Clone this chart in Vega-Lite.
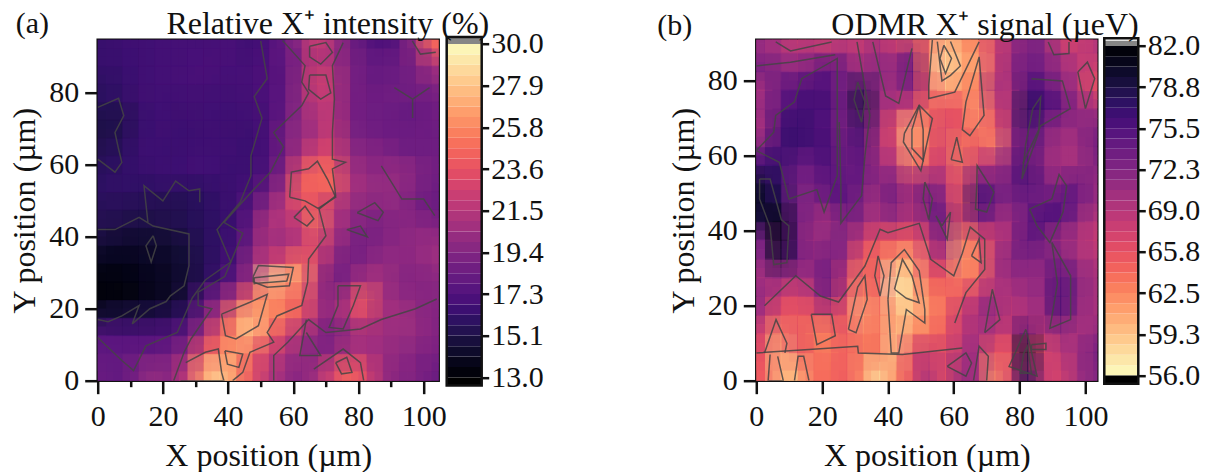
{"$schema":"https://vega.github.io/schema/vega-lite/v6.json","background":"white","padding":{"left":6.7,"top":7.7,"right":2,"bottom":2},"bounds":"flush","resolve":{"scale":{"color":"independent"}},"config":{"font":"Liberation Serif","view":{"stroke":"#111","strokeWidth":2.5},"axis":{"labelFont":"Liberation Serif","titleFont":"Liberation Serif","labelFontSize":30,"titleFontSize":32,"labelColor":"#111","titleColor":"#111","titleFontWeight":"normal","grid":false,"domain":false,"tickColor":"#111","tickWidth":2.5},"title":{"font":"Liberation Serif","fontSize":32,"fontWeight":"normal","color":"#111"}},
"datasets":{
"a":[
{"x":2.5,"y":92.5,"v":16.3},{"x":7.5,"y":92.5,"v":16.5},{"x":12.5,"y":92.5,"v":16.6},{"x":17.5,"y":92.5,"v":16.7},{"x":22.5,"y":92.5,"v":16.8},{"x":27.5,"y":92.5,"v":16.8},{"x":32.5,"y":92.5,"v":16.8},{"x":37.5,"y":92.5,"v":16.9},{"x":42.5,"y":92.5,"v":16.9},{"x":47.5,"y":92.5,"v":16.6},{"x":52.5,"y":92.5,"v":17},{"x":57.5,"y":92.5,"v":18.2},{"x":62.5,"y":92.5,"v":20},{"x":67.5,"y":92.5,"v":22.6},{"x":72.5,"y":92.5,"v":20.8},{"x":77.5,"y":92.5,"v":18.8},{"x":82.5,"y":92.5,"v":17.8},{"x":87.5,"y":92.5,"v":17},{"x":92.5,"y":92.5,"v":17.8},{"x":97.5,"y":92.5,"v":20},{"x":102.5,"y":92.5,"v":24.5},
{"x":2.5,"y":87.5,"v":16.3},{"x":7.5,"y":87.5,"v":16.4},{"x":12.5,"y":87.5,"v":16.6},{"x":17.5,"y":87.5,"v":16.7},{"x":22.5,"y":87.5,"v":16.8},{"x":27.5,"y":87.5,"v":16.8},{"x":32.5,"y":87.5,"v":17},{"x":37.5,"y":87.5,"v":16.9},{"x":42.5,"y":87.5,"v":16.9},{"x":47.5,"y":87.5,"v":16.8},{"x":52.5,"y":87.5,"v":17.2},{"x":57.5,"y":87.5,"v":18},{"x":62.5,"y":87.5,"v":19.4},{"x":67.5,"y":87.5,"v":22.2},{"x":72.5,"y":87.5,"v":20.6},{"x":77.5,"y":87.5,"v":19.2},{"x":82.5,"y":87.5,"v":18.4},{"x":87.5,"y":87.5,"v":18.2},{"x":92.5,"y":87.5,"v":18.4},{"x":97.5,"y":87.5,"v":19},{"x":102.5,"y":87.5,"v":21},
{"x":2.5,"y":82.5,"v":15.9},{"x":7.5,"y":82.5,"v":16.2},{"x":12.5,"y":82.5,"v":16.6},{"x":17.5,"y":82.5,"v":16.7},{"x":22.5,"y":82.5,"v":16.8},{"x":27.5,"y":82.5,"v":16.9},{"x":32.5,"y":82.5,"v":16.9},{"x":37.5,"y":82.5,"v":16.8},{"x":42.5,"y":82.5,"v":16.8},{"x":47.5,"y":82.5,"v":16.9},{"x":52.5,"y":82.5,"v":17.2},{"x":57.5,"y":82.5,"v":17.8},{"x":62.5,"y":82.5,"v":20.2},{"x":67.5,"y":82.5,"v":23},{"x":72.5,"y":82.5,"v":21.8},{"x":77.5,"y":82.5,"v":19.2},{"x":82.5,"y":82.5,"v":18.3},{"x":87.5,"y":82.5,"v":18.2},{"x":92.5,"y":82.5,"v":18.4},{"x":97.5,"y":82.5,"v":18.8},{"x":102.5,"y":82.5,"v":19.6},
{"x":2.5,"y":77.5,"v":15.8},{"x":7.5,"y":77.5,"v":16.1},{"x":12.5,"y":77.5,"v":16.5},{"x":17.5,"y":77.5,"v":16.7},{"x":22.5,"y":77.5,"v":16.6},{"x":27.5,"y":77.5,"v":16.7},{"x":32.5,"y":77.5,"v":16.7},{"x":37.5,"y":77.5,"v":16.7},{"x":42.5,"y":77.5,"v":16.7},{"x":47.5,"y":77.5,"v":16.8},{"x":52.5,"y":77.5,"v":17.1},{"x":57.5,"y":77.5,"v":18},{"x":62.5,"y":77.5,"v":20},{"x":67.5,"y":77.5,"v":22.2},{"x":72.5,"y":77.5,"v":21.6},{"x":77.5,"y":77.5,"v":19},{"x":82.5,"y":77.5,"v":18.6},{"x":87.5,"y":77.5,"v":18.6},{"x":92.5,"y":77.5,"v":18.8},{"x":97.5,"y":77.5,"v":18.4},{"x":102.5,"y":77.5,"v":18.6},
{"x":2.5,"y":72.5,"v":15.2},{"x":7.5,"y":72.5,"v":15.3},{"x":12.5,"y":72.5,"v":16.2},{"x":17.5,"y":72.5,"v":16.6},{"x":22.5,"y":72.5,"v":16.6},{"x":27.5,"y":72.5,"v":16.5},{"x":32.5,"y":72.5,"v":16.7},{"x":37.5,"y":72.5,"v":16.6},{"x":42.5,"y":72.5,"v":16.6},{"x":47.5,"y":72.5,"v":16.7},{"x":52.5,"y":72.5,"v":16.9},{"x":57.5,"y":72.5,"v":18.2},{"x":62.5,"y":72.5,"v":20.2},{"x":67.5,"y":72.5,"v":21.2},{"x":72.5,"y":72.5,"v":22},{"x":77.5,"y":72.5,"v":19},{"x":82.5,"y":72.5,"v":18.4},{"x":87.5,"y":72.5,"v":18.4},{"x":92.5,"y":72.5,"v":18.2},{"x":97.5,"y":72.5,"v":18},{"x":102.5,"y":72.5,"v":18.6},
{"x":2.5,"y":67.5,"v":15.3},{"x":7.5,"y":67.5,"v":15.5},{"x":12.5,"y":67.5,"v":16.3},{"x":17.5,"y":67.5,"v":16.6},{"x":22.5,"y":67.5,"v":16.5},{"x":27.5,"y":67.5,"v":16.4},{"x":32.5,"y":67.5,"v":16.5},{"x":37.5,"y":67.5,"v":16.6},{"x":42.5,"y":67.5,"v":16.5},{"x":47.5,"y":67.5,"v":16.4},{"x":52.5,"y":67.5,"v":17},{"x":57.5,"y":67.5,"v":19},{"x":62.5,"y":67.5,"v":20.2},{"x":67.5,"y":67.5,"v":21},{"x":72.5,"y":67.5,"v":22.4},{"x":77.5,"y":67.5,"v":19.2},{"x":82.5,"y":67.5,"v":18.8},{"x":87.5,"y":67.5,"v":18.6},{"x":92.5,"y":67.5,"v":18.4},{"x":97.5,"y":67.5,"v":18.6},{"x":102.5,"y":67.5,"v":18.4},
{"x":2.5,"y":62.5,"v":15.6},{"x":7.5,"y":62.5,"v":15.8},{"x":12.5,"y":62.5,"v":16.4},{"x":17.5,"y":62.5,"v":16.5},{"x":22.5,"y":62.5,"v":16.4},{"x":27.5,"y":62.5,"v":16.5},{"x":32.5,"y":62.5,"v":16.7},{"x":37.5,"y":62.5,"v":16.6},{"x":42.5,"y":62.5,"v":16.6},{"x":47.5,"y":62.5,"v":16.4},{"x":52.5,"y":62.5,"v":17},{"x":57.5,"y":62.5,"v":18.6},{"x":62.5,"y":62.5,"v":21},{"x":67.5,"y":62.5,"v":22.8},{"x":72.5,"y":62.5,"v":23},{"x":77.5,"y":62.5,"v":20.2},{"x":82.5,"y":62.5,"v":19.4},{"x":87.5,"y":62.5,"v":19.4},{"x":92.5,"y":62.5,"v":18.8},{"x":97.5,"y":62.5,"v":18.4},{"x":102.5,"y":62.5,"v":18.6},
{"x":2.5,"y":57.5,"v":15.8},{"x":7.5,"y":57.5,"v":16.1},{"x":12.5,"y":57.5,"v":16.3},{"x":17.5,"y":57.5,"v":16.4},{"x":22.5,"y":57.5,"v":16.5},{"x":27.5,"y":57.5,"v":16.6},{"x":32.5,"y":57.5,"v":16.8},{"x":37.5,"y":57.5,"v":16.6},{"x":42.5,"y":57.5,"v":16.4},{"x":47.5,"y":57.5,"v":16.5},{"x":52.5,"y":57.5,"v":17.4},{"x":57.5,"y":57.5,"v":19.6},{"x":62.5,"y":57.5,"v":23.4},{"x":67.5,"y":57.5,"v":25},{"x":72.5,"y":57.5,"v":24.4},{"x":77.5,"y":57.5,"v":20.8},{"x":82.5,"y":57.5,"v":20},{"x":87.5,"y":57.5,"v":19.8},{"x":92.5,"y":57.5,"v":20.4},{"x":97.5,"y":57.5,"v":19.8},{"x":102.5,"y":57.5,"v":18.8},
{"x":2.5,"y":52.5,"v":16},{"x":7.5,"y":52.5,"v":16.2},{"x":12.5,"y":52.5,"v":16},{"x":17.5,"y":52.5,"v":15.9},{"x":22.5,"y":52.5,"v":16.1},{"x":27.5,"y":52.5,"v":16},{"x":32.5,"y":52.5,"v":16},{"x":37.5,"y":52.5,"v":16.3},{"x":42.5,"y":52.5,"v":16.5},{"x":47.5,"y":52.5,"v":16.8},{"x":52.5,"y":52.5,"v":18.4},{"x":57.5,"y":52.5,"v":20.4},{"x":62.5,"y":52.5,"v":24.6},{"x":67.5,"y":52.5,"v":24.2},{"x":72.5,"y":52.5,"v":24.6},{"x":77.5,"y":52.5,"v":21.2},{"x":82.5,"y":52.5,"v":20.4},{"x":87.5,"y":52.5,"v":20.2},{"x":92.5,"y":52.5,"v":20},{"x":97.5,"y":52.5,"v":19.2},{"x":102.5,"y":52.5,"v":18.4},
{"x":2.5,"y":47.5,"v":15.6},{"x":7.5,"y":47.5,"v":15.6},{"x":12.5,"y":47.5,"v":15.5},{"x":17.5,"y":47.5,"v":15.4},{"x":22.5,"y":47.5,"v":15.3},{"x":27.5,"y":47.5,"v":15.5},{"x":32.5,"y":47.5,"v":15.8},{"x":37.5,"y":47.5,"v":16.2},{"x":42.5,"y":47.5,"v":16.6},{"x":47.5,"y":47.5,"v":17.6},{"x":52.5,"y":47.5,"v":20},{"x":57.5,"y":47.5,"v":21.6},{"x":62.5,"y":47.5,"v":23.4},{"x":67.5,"y":47.5,"v":23.8},{"x":72.5,"y":47.5,"v":21.4},{"x":77.5,"y":47.5,"v":20.2},{"x":82.5,"y":47.5,"v":19.6},{"x":87.5,"y":47.5,"v":19.8},{"x":92.5,"y":47.5,"v":20},{"x":97.5,"y":47.5,"v":19},{"x":102.5,"y":47.5,"v":18.4},
{"x":2.5,"y":42.5,"v":15.4},{"x":7.5,"y":42.5,"v":15.3},{"x":12.5,"y":42.5,"v":15.1},{"x":17.5,"y":42.5,"v":15.2},{"x":22.5,"y":42.5,"v":15.4},{"x":27.5,"y":42.5,"v":15.5},{"x":32.5,"y":42.5,"v":15.8},{"x":37.5,"y":42.5,"v":16.1},{"x":42.5,"y":42.5,"v":16.6},{"x":47.5,"y":42.5,"v":18.2},{"x":52.5,"y":42.5,"v":21.6},{"x":57.5,"y":42.5,"v":21},{"x":62.5,"y":42.5,"v":22},{"x":67.5,"y":42.5,"v":25.4},{"x":72.5,"y":42.5,"v":21.6},{"x":77.5,"y":42.5,"v":20},{"x":82.5,"y":42.5,"v":19.2},{"x":87.5,"y":42.5,"v":19},{"x":92.5,"y":42.5,"v":19.6},{"x":97.5,"y":42.5,"v":19.8},{"x":102.5,"y":42.5,"v":19.4},
{"x":2.5,"y":37.5,"v":14.6},{"x":7.5,"y":37.5,"v":14.4},{"x":12.5,"y":37.5,"v":14.3},{"x":17.5,"y":37.5,"v":14.5},{"x":22.5,"y":37.5,"v":14.5},{"x":27.5,"y":37.5,"v":15},{"x":32.5,"y":37.5,"v":15.7},{"x":37.5,"y":37.5,"v":16.2},{"x":42.5,"y":37.5,"v":16.8},{"x":47.5,"y":37.5,"v":18.8},{"x":52.5,"y":37.5,"v":21.2},{"x":57.5,"y":37.5,"v":20.2},{"x":62.5,"y":37.5,"v":22},{"x":67.5,"y":37.5,"v":23},{"x":72.5,"y":37.5,"v":20.6},{"x":77.5,"y":37.5,"v":19.2},{"x":82.5,"y":37.5,"v":18.6},{"x":87.5,"y":37.5,"v":19.6},{"x":92.5,"y":37.5,"v":19.8},{"x":97.5,"y":37.5,"v":20},{"x":102.5,"y":37.5,"v":20.4},
{"x":2.5,"y":32.5,"v":13.9},{"x":7.5,"y":32.5,"v":13.9},{"x":12.5,"y":32.5,"v":14},{"x":17.5,"y":32.5,"v":14.3},{"x":22.5,"y":32.5,"v":14.3},{"x":27.5,"y":32.5,"v":14.8},{"x":32.5,"y":32.5,"v":15.6},{"x":37.5,"y":32.5,"v":16.2},{"x":42.5,"y":32.5,"v":17},{"x":47.5,"y":32.5,"v":20.2},{"x":52.5,"y":32.5,"v":22},{"x":57.5,"y":32.5,"v":23},{"x":62.5,"y":32.5,"v":25},{"x":67.5,"y":32.5,"v":22.8},{"x":72.5,"y":32.5,"v":19.8},{"x":77.5,"y":32.5,"v":18.8},{"x":82.5,"y":32.5,"v":19.4},{"x":87.5,"y":32.5,"v":20},{"x":92.5,"y":32.5,"v":20},{"x":97.5,"y":32.5,"v":19.8},{"x":102.5,"y":32.5,"v":20.4},
{"x":2.5,"y":27.5,"v":13.3},{"x":7.5,"y":27.5,"v":13.4},{"x":12.5,"y":27.5,"v":13.6},{"x":17.5,"y":27.5,"v":14},{"x":22.5,"y":27.5,"v":14.2},{"x":27.5,"y":27.5,"v":14.7},{"x":32.5,"y":27.5,"v":15.6},{"x":37.5,"y":27.5,"v":16.6},{"x":42.5,"y":27.5,"v":18},{"x":47.5,"y":27.5,"v":20.6},{"x":52.5,"y":27.5,"v":28.6},{"x":57.5,"y":27.5,"v":28},{"x":62.5,"y":27.5,"v":26.4},{"x":67.5,"y":27.5,"v":22},{"x":72.5,"y":27.5,"v":18},{"x":77.5,"y":27.5,"v":19.8},{"x":82.5,"y":27.5,"v":20.8},{"x":87.5,"y":27.5,"v":20.8},{"x":92.5,"y":27.5,"v":19.6},{"x":97.5,"y":27.5,"v":19.4},{"x":102.5,"y":27.5,"v":19.6},
{"x":2.5,"y":22.5,"v":13.3},{"x":7.5,"y":22.5,"v":13.3},{"x":12.5,"y":22.5,"v":13.7},{"x":17.5,"y":22.5,"v":14},{"x":22.5,"y":22.5,"v":14.2},{"x":27.5,"y":22.5,"v":15.1},{"x":32.5,"y":22.5,"v":17.4},{"x":37.5,"y":22.5,"v":19.2},{"x":42.5,"y":22.5,"v":21.2},{"x":47.5,"y":22.5,"v":24.6},{"x":52.5,"y":22.5,"v":26},{"x":57.5,"y":22.5,"v":24.6},{"x":62.5,"y":22.5,"v":24.2},{"x":67.5,"y":22.5,"v":21.4},{"x":72.5,"y":22.5,"v":19.2},{"x":77.5,"y":22.5,"v":21.8},{"x":82.5,"y":22.5,"v":24.6},{"x":87.5,"y":22.5,"v":20.8},{"x":92.5,"y":22.5,"v":20},{"x":97.5,"y":22.5,"v":19.8},{"x":102.5,"y":22.5,"v":19.6},
{"x":2.5,"y":17.5,"v":15},{"x":7.5,"y":17.5,"v":15},{"x":12.5,"y":17.5,"v":15.2},{"x":17.5,"y":17.5,"v":15.2},{"x":22.5,"y":17.5,"v":15.6},{"x":27.5,"y":17.5,"v":16.2},{"x":32.5,"y":17.5,"v":18.8},{"x":37.5,"y":17.5,"v":21.4},{"x":42.5,"y":17.5,"v":25.4},{"x":47.5,"y":17.5,"v":27.8},{"x":52.5,"y":17.5,"v":26},{"x":57.5,"y":17.5,"v":25.6},{"x":62.5,"y":17.5,"v":24},{"x":67.5,"y":17.5,"v":21.4},{"x":72.5,"y":17.5,"v":19.4},{"x":77.5,"y":17.5,"v":22},{"x":82.5,"y":17.5,"v":23.4},{"x":87.5,"y":17.5,"v":20.6},{"x":92.5,"y":17.5,"v":21},{"x":97.5,"y":17.5,"v":20.2},{"x":102.5,"y":17.5,"v":19.4},
{"x":2.5,"y":12.5,"v":17.4},{"x":7.5,"y":12.5,"v":17},{"x":12.5,"y":12.5,"v":17},{"x":17.5,"y":12.5,"v":17.2},{"x":22.5,"y":12.5,"v":17.2},{"x":27.5,"y":12.5,"v":18},{"x":32.5,"y":12.5,"v":20.4},{"x":37.5,"y":12.5,"v":24},{"x":42.5,"y":12.5,"v":26},{"x":47.5,"y":12.5,"v":28.2},{"x":52.5,"y":12.5,"v":25},{"x":57.5,"y":12.5,"v":23},{"x":62.5,"y":12.5,"v":21},{"x":67.5,"y":12.5,"v":19.8},{"x":72.5,"y":12.5,"v":18.6},{"x":77.5,"y":12.5,"v":20.2},{"x":82.5,"y":12.5,"v":20.6},{"x":87.5,"y":12.5,"v":20.6},{"x":92.5,"y":12.5,"v":20.2},{"x":97.5,"y":12.5,"v":20.4},{"x":102.5,"y":12.5,"v":19.4},
{"x":2.5,"y":7.5,"v":18},{"x":7.5,"y":7.5,"v":18},{"x":12.5,"y":7.5,"v":18.2},{"x":17.5,"y":7.5,"v":18},{"x":22.5,"y":7.5,"v":18.4},{"x":27.5,"y":7.5,"v":19.8},{"x":32.5,"y":7.5,"v":23.6},{"x":37.5,"y":7.5,"v":25},{"x":42.5,"y":7.5,"v":26.8},{"x":47.5,"y":7.5,"v":24.4},{"x":52.5,"y":7.5,"v":22.8},{"x":57.5,"y":7.5,"v":21.4},{"x":62.5,"y":7.5,"v":20.2},{"x":67.5,"y":7.5,"v":19.2},{"x":72.5,"y":7.5,"v":19.8},{"x":77.5,"y":7.5,"v":21.2},{"x":82.5,"y":7.5,"v":21},{"x":87.5,"y":7.5,"v":20.4},{"x":92.5,"y":7.5,"v":20},{"x":97.5,"y":7.5,"v":19.6},{"x":102.5,"y":7.5,"v":19},
{"x":2.5,"y":2.5,"v":18.2},{"x":7.5,"y":2.5,"v":18},{"x":12.5,"y":2.5,"v":19},{"x":17.5,"y":2.5,"v":20.2},{"x":22.5,"y":2.5,"v":19.4},{"x":27.5,"y":2.5,"v":22},{"x":32.5,"y":2.5,"v":26.4},{"x":37.5,"y":2.5,"v":28.4},{"x":42.5,"y":2.5,"v":26},{"x":47.5,"y":2.5,"v":23.8},{"x":52.5,"y":2.5,"v":21.6},{"x":57.5,"y":2.5,"v":20.4},{"x":62.5,"y":2.5,"v":19.4},{"x":67.5,"y":2.5,"v":20.8},{"x":72.5,"y":2.5,"v":22.8},{"x":77.5,"y":2.5,"v":24.6},{"x":82.5,"y":2.5,"v":23},{"x":87.5,"y":2.5,"v":20.6},{"x":92.5,"y":2.5,"v":19.4},{"x":97.5,"y":2.5,"v":19.4},{"x":102.5,"y":2.5,"v":18.4}
],
"b":[
{"x":2.5,"y":92.5,"v":71},{"x":7.5,"y":92.5,"v":69},{"x":12.5,"y":92.5,"v":67},{"x":17.5,"y":92.5,"v":68},{"x":22.5,"y":92.5,"v":66},{"x":27.5,"y":92.5,"v":69},{"x":32.5,"y":92.5,"v":67},{"x":37.5,"y":92.5,"v":70},{"x":42.5,"y":92.5,"v":66},{"x":47.5,"y":92.5,"v":64},{"x":52.5,"y":92.5,"v":65},{"x":57.5,"y":92.5,"v":60},{"x":62.5,"y":92.5,"v":63},{"x":67.5,"y":92.5,"v":63},{"x":72.5,"y":92.5,"v":67},{"x":77.5,"y":92.5,"v":70},{"x":82.5,"y":92.5,"v":73},{"x":87.5,"y":92.5,"v":72},{"x":92.5,"y":92.5,"v":67},{"x":97.5,"y":92.5,"v":66},{"x":102.5,"y":92.5,"v":69},
{"x":2.5,"y":87.5,"v":71},{"x":7.5,"y":87.5,"v":70},{"x":12.5,"y":87.5,"v":69},{"x":17.5,"y":87.5,"v":70},{"x":22.5,"y":87.5,"v":69},{"x":27.5,"y":87.5,"v":70},{"x":32.5,"y":87.5,"v":68},{"x":37.5,"y":87.5,"v":71},{"x":42.5,"y":87.5,"v":68},{"x":47.5,"y":87.5,"v":72},{"x":52.5,"y":87.5,"v":64},{"x":57.5,"y":87.5,"v":58},{"x":62.5,"y":87.5,"v":61},{"x":67.5,"y":87.5,"v":62},{"x":72.5,"y":87.5,"v":67},{"x":77.5,"y":87.5,"v":70},{"x":82.5,"y":87.5,"v":73},{"x":87.5,"y":87.5,"v":72},{"x":92.5,"y":87.5,"v":69},{"x":97.5,"y":87.5,"v":68},{"x":102.5,"y":87.5,"v":69},
{"x":2.5,"y":82.5,"v":73},{"x":7.5,"y":82.5,"v":72},{"x":12.5,"y":82.5,"v":71},{"x":17.5,"y":82.5,"v":73},{"x":22.5,"y":82.5,"v":75},{"x":27.5,"y":82.5,"v":73},{"x":32.5,"y":82.5,"v":70},{"x":37.5,"y":82.5,"v":72},{"x":42.5,"y":82.5,"v":71},{"x":47.5,"y":82.5,"v":75},{"x":52.5,"y":82.5,"v":64},{"x":57.5,"y":82.5,"v":57},{"x":62.5,"y":82.5,"v":61},{"x":67.5,"y":82.5,"v":61},{"x":72.5,"y":82.5,"v":67},{"x":77.5,"y":82.5,"v":71},{"x":82.5,"y":82.5,"v":74},{"x":87.5,"y":82.5,"v":73},{"x":92.5,"y":82.5,"v":71},{"x":97.5,"y":82.5,"v":69},{"x":102.5,"y":82.5,"v":67},
{"x":2.5,"y":77.5,"v":70},{"x":7.5,"y":77.5,"v":74},{"x":12.5,"y":77.5,"v":75},{"x":17.5,"y":77.5,"v":76},{"x":22.5,"y":77.5,"v":75},{"x":27.5,"y":77.5,"v":72},{"x":32.5,"y":77.5,"v":78},{"x":37.5,"y":77.5,"v":71},{"x":42.5,"y":77.5,"v":70},{"x":47.5,"y":77.5,"v":73},{"x":52.5,"y":77.5,"v":66},{"x":57.5,"y":77.5,"v":60},{"x":62.5,"y":77.5,"v":62},{"x":67.5,"y":77.5,"v":63},{"x":72.5,"y":77.5,"v":70},{"x":77.5,"y":77.5,"v":69},{"x":82.5,"y":77.5,"v":76},{"x":87.5,"y":77.5,"v":75},{"x":92.5,"y":77.5,"v":72},{"x":97.5,"y":77.5,"v":70},{"x":102.5,"y":77.5,"v":66},
{"x":2.5,"y":72.5,"v":71},{"x":7.5,"y":72.5,"v":74},{"x":12.5,"y":72.5,"v":76},{"x":17.5,"y":72.5,"v":76},{"x":22.5,"y":72.5,"v":76},{"x":27.5,"y":72.5,"v":73},{"x":32.5,"y":72.5,"v":79},{"x":37.5,"y":72.5,"v":71},{"x":42.5,"y":72.5,"v":69},{"x":47.5,"y":72.5,"v":68},{"x":52.5,"y":72.5,"v":64},{"x":57.5,"y":72.5,"v":66},{"x":62.5,"y":72.5,"v":65},{"x":67.5,"y":72.5,"v":61},{"x":72.5,"y":72.5,"v":67},{"x":77.5,"y":72.5,"v":70},{"x":82.5,"y":72.5,"v":78},{"x":87.5,"y":72.5,"v":76},{"x":92.5,"y":72.5,"v":75},{"x":97.5,"y":72.5,"v":71},{"x":102.5,"y":72.5,"v":70},
{"x":2.5,"y":67.5,"v":70},{"x":7.5,"y":67.5,"v":76},{"x":12.5,"y":67.5,"v":77},{"x":17.5,"y":67.5,"v":76},{"x":22.5,"y":67.5,"v":75},{"x":27.5,"y":67.5,"v":72},{"x":32.5,"y":67.5,"v":77},{"x":37.5,"y":67.5,"v":70},{"x":42.5,"y":67.5,"v":66},{"x":47.5,"y":67.5,"v":60},{"x":52.5,"y":67.5,"v":64},{"x":57.5,"y":67.5,"v":67},{"x":62.5,"y":67.5,"v":65},{"x":67.5,"y":67.5,"v":62},{"x":72.5,"y":67.5,"v":65},{"x":77.5,"y":67.5,"v":70},{"x":82.5,"y":67.5,"v":77},{"x":87.5,"y":67.5,"v":73},{"x":92.5,"y":67.5,"v":71},{"x":97.5,"y":67.5,"v":71},{"x":102.5,"y":67.5,"v":72},
{"x":2.5,"y":62.5,"v":72},{"x":7.5,"y":62.5,"v":76},{"x":12.5,"y":62.5,"v":77},{"x":17.5,"y":62.5,"v":76},{"x":22.5,"y":62.5,"v":76},{"x":27.5,"y":62.5,"v":73},{"x":32.5,"y":62.5,"v":76},{"x":37.5,"y":62.5,"v":69},{"x":42.5,"y":62.5,"v":67},{"x":47.5,"y":62.5,"v":60},{"x":52.5,"y":62.5,"v":64},{"x":57.5,"y":62.5,"v":67},{"x":62.5,"y":62.5,"v":63},{"x":67.5,"y":62.5,"v":66},{"x":72.5,"y":62.5,"v":62},{"x":77.5,"y":62.5,"v":70},{"x":82.5,"y":62.5,"v":75},{"x":87.5,"y":62.5,"v":72},{"x":92.5,"y":62.5,"v":70},{"x":97.5,"y":62.5,"v":70},{"x":102.5,"y":62.5,"v":73},
{"x":2.5,"y":57.5,"v":76},{"x":7.5,"y":57.5,"v":77},{"x":12.5,"y":57.5,"v":74},{"x":17.5,"y":57.5,"v":74},{"x":22.5,"y":57.5,"v":76},{"x":27.5,"y":57.5,"v":73},{"x":32.5,"y":57.5,"v":75},{"x":37.5,"y":57.5,"v":70},{"x":42.5,"y":57.5,"v":69},{"x":47.5,"y":57.5,"v":62},{"x":52.5,"y":57.5,"v":66},{"x":57.5,"y":57.5,"v":68},{"x":62.5,"y":57.5,"v":63},{"x":67.5,"y":57.5,"v":68},{"x":72.5,"y":57.5,"v":69},{"x":77.5,"y":57.5,"v":72},{"x":82.5,"y":57.5,"v":76},{"x":87.5,"y":57.5,"v":71},{"x":92.5,"y":57.5,"v":70},{"x":97.5,"y":57.5,"v":70},{"x":102.5,"y":57.5,"v":72},
{"x":2.5,"y":52.5,"v":79},{"x":7.5,"y":52.5,"v":77},{"x":12.5,"y":52.5,"v":73},{"x":17.5,"y":52.5,"v":73},{"x":22.5,"y":52.5,"v":75},{"x":27.5,"y":52.5,"v":74},{"x":32.5,"y":52.5,"v":74},{"x":37.5,"y":52.5,"v":71},{"x":42.5,"y":52.5,"v":73},{"x":47.5,"y":52.5,"v":68},{"x":52.5,"y":52.5,"v":72},{"x":57.5,"y":52.5,"v":69},{"x":62.5,"y":52.5,"v":65},{"x":67.5,"y":52.5,"v":74},{"x":72.5,"y":52.5,"v":72},{"x":77.5,"y":52.5,"v":73},{"x":82.5,"y":52.5,"v":76},{"x":87.5,"y":52.5,"v":73},{"x":92.5,"y":52.5,"v":71},{"x":97.5,"y":52.5,"v":74},{"x":102.5,"y":52.5,"v":71},
{"x":2.5,"y":47.5,"v":80},{"x":7.5,"y":47.5,"v":78},{"x":12.5,"y":47.5,"v":73},{"x":17.5,"y":47.5,"v":72},{"x":22.5,"y":47.5,"v":74},{"x":27.5,"y":47.5,"v":75},{"x":32.5,"y":47.5,"v":72},{"x":37.5,"y":47.5,"v":70},{"x":42.5,"y":47.5,"v":74},{"x":47.5,"y":47.5,"v":69},{"x":52.5,"y":47.5,"v":75},{"x":57.5,"y":47.5,"v":71},{"x":62.5,"y":47.5,"v":65},{"x":67.5,"y":47.5,"v":77},{"x":72.5,"y":47.5,"v":74},{"x":77.5,"y":47.5,"v":72},{"x":82.5,"y":47.5,"v":74},{"x":87.5,"y":47.5,"v":73},{"x":92.5,"y":47.5,"v":75},{"x":97.5,"y":47.5,"v":74},{"x":102.5,"y":47.5,"v":71},
{"x":2.5,"y":42.5,"v":79},{"x":7.5,"y":42.5,"v":81},{"x":12.5,"y":42.5,"v":74},{"x":17.5,"y":42.5,"v":71},{"x":22.5,"y":42.5,"v":70},{"x":27.5,"y":42.5,"v":73},{"x":32.5,"y":42.5,"v":72},{"x":37.5,"y":42.5,"v":69},{"x":42.5,"y":42.5,"v":72},{"x":47.5,"y":42.5,"v":68},{"x":52.5,"y":42.5,"v":72},{"x":57.5,"y":42.5,"v":74},{"x":62.5,"y":42.5,"v":66},{"x":67.5,"y":42.5,"v":74},{"x":72.5,"y":42.5,"v":71},{"x":77.5,"y":42.5,"v":70},{"x":82.5,"y":42.5,"v":74},{"x":87.5,"y":42.5,"v":76},{"x":92.5,"y":42.5,"v":75},{"x":97.5,"y":42.5,"v":72},{"x":102.5,"y":42.5,"v":69},
{"x":2.5,"y":37.5,"v":73},{"x":7.5,"y":37.5,"v":81},{"x":12.5,"y":37.5,"v":74},{"x":17.5,"y":37.5,"v":70},{"x":22.5,"y":37.5,"v":72},{"x":27.5,"y":37.5,"v":72},{"x":32.5,"y":37.5,"v":68},{"x":37.5,"y":37.5,"v":66},{"x":42.5,"y":37.5,"v":66},{"x":47.5,"y":37.5,"v":65},{"x":52.5,"y":37.5,"v":68},{"x":57.5,"y":37.5,"v":73},{"x":62.5,"y":37.5,"v":62},{"x":67.5,"y":37.5,"v":66},{"x":72.5,"y":37.5,"v":68},{"x":77.5,"y":37.5,"v":70},{"x":82.5,"y":37.5,"v":75},{"x":87.5,"y":37.5,"v":73},{"x":92.5,"y":37.5,"v":70},{"x":97.5,"y":37.5,"v":70},{"x":102.5,"y":37.5,"v":68},
{"x":2.5,"y":32.5,"v":72},{"x":7.5,"y":32.5,"v":80},{"x":12.5,"y":32.5,"v":74},{"x":17.5,"y":32.5,"v":71},{"x":22.5,"y":32.5,"v":73},{"x":27.5,"y":32.5,"v":71},{"x":32.5,"y":32.5,"v":65},{"x":37.5,"y":32.5,"v":64},{"x":42.5,"y":32.5,"v":62},{"x":47.5,"y":32.5,"v":61},{"x":52.5,"y":32.5,"v":67},{"x":57.5,"y":32.5,"v":70},{"x":62.5,"y":32.5,"v":61},{"x":67.5,"y":32.5,"v":63},{"x":72.5,"y":32.5,"v":69},{"x":77.5,"y":32.5,"v":72},{"x":82.5,"y":32.5,"v":73},{"x":87.5,"y":32.5,"v":72},{"x":92.5,"y":32.5,"v":73},{"x":97.5,"y":32.5,"v":70},{"x":102.5,"y":32.5,"v":69},
{"x":2.5,"y":27.5,"v":70},{"x":7.5,"y":27.5,"v":72},{"x":12.5,"y":27.5,"v":70},{"x":17.5,"y":27.5,"v":71},{"x":22.5,"y":27.5,"v":74},{"x":27.5,"y":27.5,"v":68},{"x":32.5,"y":27.5,"v":63},{"x":37.5,"y":27.5,"v":66},{"x":42.5,"y":27.5,"v":57},{"x":47.5,"y":27.5,"v":60},{"x":52.5,"y":27.5,"v":65},{"x":57.5,"y":27.5,"v":66},{"x":62.5,"y":27.5,"v":62},{"x":67.5,"y":27.5,"v":64},{"x":72.5,"y":27.5,"v":69},{"x":77.5,"y":27.5,"v":71},{"x":82.5,"y":27.5,"v":71},{"x":87.5,"y":27.5,"v":71},{"x":92.5,"y":27.5,"v":75},{"x":97.5,"y":27.5,"v":72},{"x":102.5,"y":27.5,"v":70},
{"x":2.5,"y":22.5,"v":71},{"x":7.5,"y":22.5,"v":68},{"x":12.5,"y":22.5,"v":67},{"x":17.5,"y":22.5,"v":69},{"x":22.5,"y":22.5,"v":74},{"x":27.5,"y":22.5,"v":67},{"x":32.5,"y":22.5,"v":62},{"x":37.5,"y":22.5,"v":65},{"x":42.5,"y":22.5,"v":57},{"x":47.5,"y":22.5,"v":59},{"x":52.5,"y":22.5,"v":63},{"x":57.5,"y":22.5,"v":64},{"x":62.5,"y":22.5,"v":65},{"x":67.5,"y":22.5,"v":68},{"x":72.5,"y":22.5,"v":70},{"x":77.5,"y":22.5,"v":69},{"x":82.5,"y":22.5,"v":71},{"x":87.5,"y":22.5,"v":71},{"x":92.5,"y":22.5,"v":76},{"x":97.5,"y":22.5,"v":72},{"x":102.5,"y":22.5,"v":70},
{"x":2.5,"y":17.5,"v":70},{"x":7.5,"y":17.5,"v":66},{"x":12.5,"y":17.5,"v":65},{"x":17.5,"y":17.5,"v":66},{"x":22.5,"y":17.5,"v":68},{"x":27.5,"y":17.5,"v":65},{"x":32.5,"y":17.5,"v":60},{"x":37.5,"y":17.5,"v":64},{"x":42.5,"y":17.5,"v":60},{"x":47.5,"y":17.5,"v":59},{"x":52.5,"y":17.5,"v":62},{"x":57.5,"y":17.5,"v":64},{"x":62.5,"y":17.5,"v":68},{"x":67.5,"y":17.5,"v":70},{"x":72.5,"y":17.5,"v":72},{"x":77.5,"y":17.5,"v":68},{"x":82.5,"y":17.5,"v":70},{"x":87.5,"y":17.5,"v":70},{"x":92.5,"y":17.5,"v":76},{"x":97.5,"y":17.5,"v":71},{"x":102.5,"y":17.5,"v":70},
{"x":2.5,"y":12.5,"v":67},{"x":7.5,"y":12.5,"v":62},{"x":12.5,"y":12.5,"v":66},{"x":17.5,"y":12.5,"v":63},{"x":22.5,"y":12.5,"v":63},{"x":27.5,"y":12.5,"v":66},{"x":32.5,"y":12.5,"v":62},{"x":37.5,"y":12.5,"v":64},{"x":42.5,"y":12.5,"v":59},{"x":47.5,"y":12.5,"v":62},{"x":52.5,"y":12.5,"v":63},{"x":57.5,"y":12.5,"v":65},{"x":62.5,"y":12.5,"v":68},{"x":67.5,"y":12.5,"v":70},{"x":72.5,"y":12.5,"v":69},{"x":77.5,"y":12.5,"v":68},{"x":82.5,"y":12.5,"v":76},{"x":87.5,"y":12.5,"v":68},{"x":92.5,"y":12.5,"v":72},{"x":97.5,"y":12.5,"v":69},{"x":102.5,"y":12.5,"v":71},
{"x":2.5,"y":7.5,"v":66},{"x":7.5,"y":7.5,"v":60},{"x":12.5,"y":7.5,"v":66},{"x":17.5,"y":7.5,"v":64},{"x":22.5,"y":7.5,"v":63},{"x":27.5,"y":7.5,"v":65},{"x":32.5,"y":7.5,"v":63},{"x":37.5,"y":7.5,"v":64},{"x":42.5,"y":7.5,"v":59},{"x":47.5,"y":7.5,"v":66},{"x":52.5,"y":7.5,"v":68},{"x":57.5,"y":7.5,"v":66},{"x":62.5,"y":7.5,"v":69},{"x":67.5,"y":7.5,"v":71},{"x":72.5,"y":7.5,"v":65},{"x":77.5,"y":7.5,"v":66},{"x":82.5,"y":7.5,"v":80},{"x":87.5,"y":7.5,"v":66},{"x":92.5,"y":7.5,"v":69},{"x":97.5,"y":7.5,"v":70},{"x":102.5,"y":7.5,"v":73},
{"x":2.5,"y":2.5,"v":65},{"x":7.5,"y":2.5,"v":60},{"x":12.5,"y":2.5,"v":60},{"x":17.5,"y":2.5,"v":64},{"x":22.5,"y":2.5,"v":64},{"x":27.5,"y":2.5,"v":65},{"x":32.5,"y":2.5,"v":62},{"x":37.5,"y":2.5,"v":58},{"x":42.5,"y":2.5,"v":62},{"x":47.5,"y":2.5,"v":66},{"x":52.5,"y":2.5,"v":70},{"x":57.5,"y":2.5,"v":66},{"x":62.5,"y":2.5,"v":71},{"x":67.5,"y":2.5,"v":70},{"x":72.5,"y":2.5,"v":62},{"x":77.5,"y":2.5,"v":67},{"x":82.5,"y":2.5,"v":78},{"x":87.5,"y":2.5,"v":68},{"x":92.5,"y":2.5,"v":67},{"x":97.5,"y":2.5,"v":70},{"x":102.5,"y":2.5,"v":72}
],
"ca":[
{"c":1,"x":50,"y":94.5},{"c":1,"x":52,"y":84},{"c":1,"x":48,"y":79},{"c":1,"x":50.4,"y":73},{"c":1,"x":47,"y":62.5},{"c":1,"x":47,"y":57},{"c":1,"x":43.7,"y":49.6},{"c":1,"x":36.6,"y":42},{"c":1,"x":40.8,"y":33},{"c":1,"x":33,"y":28},{"c":1,"x":29,"y":23},{"c":1,"x":24.4,"y":13.4},{"c":1,"x":14.8,"y":9.7},{"c":1,"x":11,"y":2.8},{"c":1,"x":7.4,"y":5.6},{"c":1,"x":0,"y":12},
{"c":2,"x":0,"y":42},{"c":2,"x":5.3,"y":42},{"c":2,"x":12.7,"y":45.4},{"c":2,"x":17,"y":43},{"c":2,"x":28,"y":40.8},{"c":2,"x":28,"y":32},{"c":2,"x":26.5,"y":26.4},{"c":2,"x":22.3,"y":23.6},{"c":2,"x":21,"y":22},{"c":2,"x":16,"y":20},{"c":2,"x":10.6,"y":15.8},{"c":2,"x":12.7,"y":20.9},{"c":2,"x":7.4,"y":18},{"c":2,"x":3.2,"y":16.4},{"c":2,"x":0,"y":17},
{"c":3,"x":0,"y":76},{"c":3,"x":6.4,"y":78.5},{"c":3,"x":8,"y":73.7},{"c":3,"x":5.3,"y":69},{"c":3,"x":6.4,"y":64.4},{"c":3,"x":7.4,"y":60.7},{"c":3,"x":5.3,"y":58},{"c":3,"x":0,"y":61.6},
{"c":4,"x":15.4,"y":44},{"c":4,"x":14.2,"y":54.2},{"c":4,"x":20,"y":50},{"c":4,"x":23.9,"y":55.5},{"c":4,"x":28,"y":52.8},{"c":4,"x":31.3,"y":53.3},{"c":4,"x":31.3,"y":49.6},
{"c":5,"x":56.7,"y":94.6},{"c":5,"x":63.6,"y":87.6},{"c":5,"x":62.6,"y":83},{"c":5,"x":64.7,"y":80},{"c":5,"x":62.6,"y":76.5},{"c":5,"x":54,"y":69},{"c":5,"x":57,"y":65},{"c":5,"x":53,"y":58},{"c":5,"x":47.7,"y":53},{"c":5,"x":38.7,"y":44},{"c":5,"x":44.5,"y":41},{"c":5,"x":39,"y":29},{"c":5,"x":30.8,"y":24.6},{"c":5,"x":30.8,"y":20.9},{"c":5,"x":35,"y":20},{"c":5,"x":28.6,"y":11.6},{"c":5,"x":26.5,"y":7.9},{"c":5,"x":23.3,"y":0},
{"c":6,"x":75.3,"y":94},{"c":6,"x":72,"y":87.6},{"c":6,"x":72.6,"y":78.3},{"c":6,"x":72,"y":69},{"c":6,"x":72,"y":61.6},{"c":6,"x":76,"y":60.7},{"c":6,"x":72,"y":58.9},{"c":6,"x":73,"y":51.4},{"c":6,"x":67.9,"y":47.7},{"c":6,"x":70,"y":40.3},{"c":6,"x":64.7,"y":33.8},{"c":6,"x":64.4,"y":27.3},{"c":6,"x":62.6,"y":20.9},{"c":6,"x":55,"y":18},{"c":6,"x":52,"y":13.4},{"c":6,"x":54,"y":10.7},{"c":6,"x":46.7,"y":7.9},{"c":6,"x":44.5,"y":2.3},{"c":6,"x":41.4,"y":0},
{"c":7,"x":58.9,"y":51},{"c":7,"x":59.4,"y":58},{"c":7,"x":64.7,"y":58.9},{"c":7,"x":67.4,"y":61},{"c":7,"x":70.5,"y":56},{"c":7,"x":73,"y":51},{"c":7,"x":67.6,"y":47.9},{"c":7,"x":63.6,"y":50},{"c":7,"x":58.9,"y":51},
{"c":8,"x":60.2,"y":45.4},{"c":8,"x":63.6,"y":48.5},{"c":8,"x":66.3,"y":45},{"c":8,"x":64.2,"y":43},{"c":8,"x":60.2,"y":45.4},
{"c":9,"x":47.7,"y":29},{"c":9,"x":49.3,"y":32},{"c":9,"x":60,"y":31.5},{"c":9,"x":58.8,"y":26.4},{"c":9,"x":52,"y":26},{"c":9,"x":47.7,"y":27.5},{"c":9,"x":47.7,"y":29},
{"c":10,"x":48,"y":28.6},{"c":10,"x":58.6,"y":29.6},{"c":10,"x":58,"y":27.7},{"c":10,"x":48,"y":27},{"c":10,"x":48,"y":28.6},
{"c":11,"x":38,"y":18.5},{"c":11,"x":46.7,"y":21.8},{"c":11,"x":52,"y":24},{"c":11,"x":49.3,"y":15.3},{"c":11,"x":42.4,"y":11.6},{"c":11,"x":39.2,"y":12.5},{"c":11,"x":38,"y":18.5},
{"c":12,"x":27,"y":5},{"c":12,"x":33,"y":7.9},{"c":12,"x":37,"y":8.8},{"c":12,"x":38,"y":2.3},{"c":12,"x":38.7,"y":0},{"c":12,"x":25.4,"y":0},
{"c":13,"x":39,"y":8.3},{"c":13,"x":44.5,"y":7.4},{"c":13,"x":43.3,"y":3.7},{"c":13,"x":39.8,"y":4.6},{"c":13,"x":39,"y":8.3},
{"c":14,"x":73.7,"y":26.4},{"c":14,"x":80.6,"y":26.4},{"c":14,"x":78.4,"y":20.9},{"c":14,"x":75.3,"y":14.4},{"c":14,"x":71,"y":14.8},{"c":14,"x":73.7,"y":20.9},{"c":14,"x":73.7,"y":26.4},
{"c":15,"x":66.3,"y":3.2},{"c":15,"x":75.3,"y":8.8},{"c":15,"x":80.6,"y":5},{"c":15,"x":81.6,"y":0},
{"c":16,"x":73,"y":5},{"c":16,"x":76.4,"y":6.5},{"c":16,"x":78,"y":2.3},{"c":16,"x":74.8,"y":1.9},{"c":16,"x":73,"y":5},
{"c":17,"x":91,"y":81.5},{"c":17,"x":96.6,"y":78.3},{"c":17,"x":101.8,"y":81.5},{"c":17,"x":96.6,"y":78.3},{"c":17,"x":96.6,"y":73},
{"c":18,"x":96.5,"y":94.5},{"c":18,"x":99,"y":90.8},{"c":18,"x":103.7,"y":91.3},
{"c":19,"x":65,"y":93},{"c":19,"x":70,"y":94},{"c":19,"x":72,"y":91.3},{"c":19,"x":68.4,"y":88},{"c":19,"x":65,"y":90},{"c":19,"x":65,"y":93},
{"c":20,"x":65,"y":85},{"c":20,"x":70,"y":85},{"c":20,"x":71.5,"y":80},{"c":20,"x":68.4,"y":78.3},{"c":20,"x":64.7,"y":81},{"c":20,"x":65,"y":85},
{"c":21,"x":79.6,"y":46.7},{"c":21,"x":85,"y":49.5},{"c":21,"x":87.6,"y":46.8},{"c":21,"x":86,"y":44.5},{"c":21,"x":79.6,"y":46.7},
{"c":22,"x":76.4,"y":42},{"c":22,"x":80.6,"y":43},{"c":22,"x":82.7,"y":40},{"c":22,"x":76.4,"y":42},
{"c":23,"x":64,"y":17},{"c":23,"x":62,"y":7},{"c":23,"x":68.4,"y":7},{"c":23,"x":64,"y":13.4},
{"c":24,"x":17,"y":40.3},{"c":24,"x":14.8,"y":37.5},{"c":24,"x":16.4,"y":33},{"c":24,"x":18,"y":37.5},{"c":24,"x":17,"y":40.3},
{"c":25,"x":87,"y":59.7},{"c":25,"x":93.3,"y":50.5},{"c":25,"x":96.5,"y":50.5},{"c":25,"x":100,"y":50.5},{"c":25,"x":103.4,"y":45.9},
{"c":26,"x":54,"y":0},{"c":26,"x":54,"y":7},{"c":26,"x":58.3,"y":10.7},{"c":26,"x":64.7,"y":17},{"c":26,"x":70,"y":13.4},{"c":26,"x":80.6,"y":14.4},{"c":26,"x":87,"y":17},{"c":26,"x":97.5,"y":20},{"c":26,"x":104,"y":22.7}
],
"cb":[
{"c":1,"x":1,"y":53.8},{"c":1,"x":4.2,"y":53.8},{"c":1,"x":7.6,"y":43},{"c":1,"x":9.9,"y":41.3},{"c":1,"x":9.3,"y":31.5},{"c":1,"x":5.3,"y":31},{"c":1,"x":4.2,"y":41},{"c":1,"x":1,"y":48.5},{"c":1,"x":1,"y":53.8},
{"c":2,"x":0,"y":61.4},{"c":2,"x":7,"y":58.3},{"c":2,"x":9.9,"y":48.5},{"c":2,"x":18.4,"y":51},{"c":2,"x":20.6,"y":45},{"c":2,"x":24.6,"y":54.7},{"c":2,"x":24.6,"y":86},{"c":2,"x":13.8,"y":80.6},{"c":2,"x":11.6,"y":74.4},{"c":2,"x":5.9,"y":70.8},{"c":2,"x":5.3,"y":66.3},{"c":2,"x":0,"y":61.4},
{"c":3,"x":30.8,"y":79.7},{"c":3,"x":33,"y":74.4},{"c":3,"x":32,"y":69},{"c":3,"x":29.7,"y":75},{"c":3,"x":30.8,"y":79.7},
{"c":4,"x":30.6,"y":90.4},{"c":4,"x":34.5,"y":70.8},{"c":4,"x":33,"y":60},{"c":4,"x":32,"y":49.4},{"c":4,"x":25.7,"y":42},{"c":4,"x":25.7,"y":52},{"c":4,"x":25.2,"y":69},
{"c":5,"x":40,"y":21.7},{"c":5,"x":41,"y":31.5},{"c":5,"x":45,"y":35},{"c":5,"x":49.5,"y":29.3},{"c":5,"x":51.2,"y":19},{"c":5,"x":51.2,"y":15.4},{"c":5,"x":45.6,"y":19},{"c":5,"x":43.3,"y":7.4},{"c":5,"x":41,"y":7.4},{"c":5,"x":40,"y":21.7},
{"c":6,"x":42,"y":24.4},{"c":6,"x":44.4,"y":32.4},{"c":6,"x":47.3,"y":28},{"c":6,"x":49.5,"y":20.8},{"c":6,"x":45.6,"y":22},{"c":6,"x":42,"y":24.4},
{"c":7,"x":28,"y":13.7},{"c":7,"x":30.8,"y":25},{"c":7,"x":33,"y":28},{"c":7,"x":33.7,"y":21.7},{"c":7,"x":30.3,"y":12.8},{"c":7,"x":28,"y":13.7},
{"c":8,"x":2.5,"y":20},{"c":8,"x":12,"y":28},{"c":8,"x":19.5,"y":22.6},{"c":8,"x":25,"y":21},{"c":8,"x":33,"y":30.6},{"c":8,"x":37.6,"y":40.4},{"c":8,"x":40,"y":39.5},{"c":8,"x":49.5,"y":42},{"c":8,"x":53,"y":32.4},{"c":8,"x":60,"y":28},{"c":8,"x":62.6,"y":34},{"c":8,"x":65,"y":41},{"c":8,"x":69.4,"y":37.8},{"c":8,"x":69.4,"y":29.7},{"c":8,"x":63.7,"y":23.5},{"c":8,"x":60.3,"y":15.4},
{"c":9,"x":53.5,"y":91},{"c":9,"x":52.4,"y":78.8},{"c":9,"x":52.4,"y":75.3},{"c":9,"x":60.3,"y":77},{"c":9,"x":67.7,"y":90.4},
{"c":10,"x":55,"y":90.5},{"c":10,"x":56.4,"y":80},{"c":10,"x":59,"y":81.5},{"c":10,"x":62,"y":84},{"c":10,"x":59,"y":90.5},
{"c":11,"x":57,"y":89.5},{"c":11,"x":55.8,"y":86},{"c":11,"x":57.5,"y":82},{"c":11,"x":59.3,"y":86},{"c":11,"x":57,"y":89.5},
{"c":12,"x":49.5,"y":73.5},{"c":12,"x":50.7,"y":67},{"c":12,"x":50.7,"y":58.8},{"c":12,"x":47.3,"y":62},{"c":12,"x":47.3,"y":67},{"c":12,"x":49.5,"y":73.5},
{"c":13,"x":45,"y":66},{"c":13,"x":49.5,"y":73.5},{"c":13,"x":53.5,"y":70},{"c":13,"x":50,"y":56},{"c":13,"x":44.7,"y":63.7},{"c":13,"x":45,"y":66},
{"c":14,"x":63.7,"y":74.4},{"c":14,"x":67.7,"y":86.4},{"c":14,"x":69.2,"y":70.8},{"c":14,"x":64.9,"y":65.4},{"c":14,"x":62.6,"y":67},{"c":14,"x":63.7,"y":74.4},
{"c":15,"x":59.2,"y":59},{"c":15,"x":60.9,"y":65},{"c":15,"x":62.6,"y":58.3},{"c":15,"x":59.2,"y":59},
{"c":16,"x":65.4,"y":33.3},{"c":16,"x":67.7,"y":37.8},{"c":16,"x":68.3,"y":31.5},{"c":16,"x":65.4,"y":33.3},
{"c":17,"x":67,"y":52},{"c":17,"x":67.1,"y":57.4},{"c":17,"x":72.2,"y":50.3},{"c":17,"x":70,"y":45},{"c":17,"x":66.6,"y":45.8},{"c":17,"x":67,"y":52},
{"c":18,"x":84,"y":72.6},{"c":18,"x":86.4,"y":75.7},{"c":18,"x":85.8,"y":66.3},{"c":18,"x":80.7,"y":53.8},{"c":18,"x":81.8,"y":62.8},{"c":18,"x":84,"y":72.6},
{"c":19,"x":81.3,"y":7.4},{"c":19,"x":82.4,"y":9.2},{"c":19,"x":83.6,"y":2},{"c":19,"x":80.2,"y":2},{"c":19,"x":81.3,"y":7.4},
{"c":20,"x":81.9,"y":13.7},{"c":20,"x":76.8,"y":3.8},{"c":20,"x":85.3,"y":1.2},{"c":20,"x":83,"y":10},{"c":20,"x":81.9,"y":13.7},
{"c":21,"x":89.8,"y":36.9},{"c":21,"x":95.5,"y":28},{"c":21,"x":95.5,"y":16.3},{"c":21,"x":89.2,"y":14},{"c":21,"x":91.5,"y":26},{"c":21,"x":89.8,"y":36.9},
{"c":22,"x":83,"y":45.8},{"c":22,"x":89.8,"y":48.5},{"c":22,"x":92,"y":55},{"c":22,"x":94.3,"y":52},{"c":22,"x":93.2,"y":45},{"c":22,"x":89.2,"y":36.9},{"c":22,"x":85.3,"y":41.3},{"c":22,"x":83,"y":45.8},
{"c":23,"x":83.6,"y":80.6},{"c":23,"x":93,"y":80},{"c":23,"x":95.4,"y":72.6},{"c":23,"x":86.4,"y":68},{"c":23,"x":81,"y":58},
{"c":24,"x":0,"y":7.4},{"c":24,"x":16,"y":8.3},{"c":24,"x":30.8,"y":9.2},{"c":24,"x":31,"y":7.4},{"c":24,"x":44.4,"y":7},{"c":24,"x":62.6,"y":8.7},
{"c":25,"x":2.5,"y":7.4},{"c":25,"x":6,"y":16.3},{"c":25,"x":9.3,"y":10},{"c":25,"x":8.7,"y":7.4},
{"c":26,"x":4.2,"y":7},{"c":26,"x":3.6,"y":0},{"c":26,"x":8.2,"y":0},{"c":26,"x":6.5,"y":6.5},
{"c":27,"x":11.6,"y":0},{"c":27,"x":12.7,"y":6.5},{"c":27,"x":14.4,"y":6.5},{"c":27,"x":16,"y":0},
{"c":28,"x":16.7,"y":17.7},{"c":28,"x":22.9,"y":17.7},{"c":28,"x":24,"y":12},{"c":28,"x":18.4,"y":9.6},{"c":28,"x":16.7,"y":17.7},
{"c":29,"x":66,"y":0},{"c":29,"x":67.7,"y":9.2},{"c":29,"x":70.5,"y":6.5},{"c":29,"x":70,"y":0},
{"c":30,"x":58,"y":3.8},{"c":30,"x":63.7,"y":7.4},{"c":30,"x":65.4,"y":4.7},{"c":30,"x":63.7,"y":1.2},{"c":30,"x":58,"y":3.8},
{"c":31,"x":69.4,"y":12.8},{"c":31,"x":71.7,"y":24.4},{"c":31,"x":74,"y":16.3},{"c":31,"x":69.4,"y":12.8},
{"c":32,"x":83.6,"y":9.6},{"c":32,"x":88,"y":10},{"c":32,"x":88,"y":8.3},{"c":32,"x":83.6,"y":8.3},{"c":32,"x":83.6,"y":9.6},
{"c":33,"x":0,"y":84},{"c":33,"x":10.4,"y":85},{"c":33,"x":24,"y":87},
{"c":34,"x":5.9,"y":90.4},{"c":34,"x":10.4,"y":88},{"c":34,"x":22.9,"y":90.4},
{"c":35,"x":88.7,"y":90.4},{"c":35,"x":90.4,"y":87},{"c":35,"x":95,"y":87.3},{"c":35,"x":95,"y":90.4},
{"c":36,"x":97.7,"y":82.4},{"c":36,"x":100.6,"y":85},{"c":36,"x":102.8,"y":80.6},{"c":36,"x":100,"y":72.6},{"c":36,"x":97.7,"y":82.4},
{"c":37,"x":35.4,"y":90.4},{"c":37,"x":39.3,"y":76},{"c":37,"x":43.3,"y":74},{"c":37,"x":47.3,"y":88.7},
{"c":38,"x":37,"y":33.3},{"c":38,"x":38.8,"y":28},{"c":38,"x":37.6,"y":22.6},{"c":38,"x":36,"y":28},{"c":38,"x":37,"y":33.3},
{"c":39,"x":51.2,"y":53},{"c":39,"x":53.5,"y":48.5},{"c":39,"x":52.4,"y":43},{"c":39,"x":50.7,"y":48.5},{"c":39,"x":51.2,"y":53},
{"c":40,"x":56.4,"y":41.3},{"c":40,"x":59,"y":45},{"c":40,"x":58,"y":37.8},{"c":40,"x":54.6,"y":44},{"c":40,"x":56.4,"y":41.3}
]},
"spacing":658.6,
"hconcat":[
{"spacing":8,"bounds":"flush","title":{"text":"Relative X⁺ intensity (%)","anchor":"end","offset":-33,"dx":-54},
"hconcat":[
{"width":341,"height":341,"title":{"text":"(a)","anchor":"start","frame":"group","dx":-82,"offset":-1,"fontSize":30},
"layer":[
{"data":{"name":"a"},"mark":{"type":"rect","width":16.9,"height":18.6,"clip":true},"encoding":{"x":{"field":"x","type":"quantitative","scale":{"domain":[0,104.6],"nice":false,"zero":false},"axis":{"title":"X position (µm)","values":[0,10,20,30,40,50,60,70,80,90,100],"labelExpr":"datum.value % 20 == 0 ? datum.label : ''","tickSize":{"condition":{"test":"datum.value % 20 == 0","value":13},"value":6},"labelPadding":8,"titlePadding":9,"labelFlush":false}},"y":{"field":"y","type":"quantitative","scale":{"domain":[0,94.8],"nice":false,"zero":false},"axis":{"title":"Y position (µm)","values":[0,10,20,30,40,50,60,70,80,90],"labelExpr":"datum.value % 20 == 0 ? datum.label : ''","tickSize":{"condition":{"test":"datum.value % 20 == 0","value":13},"value":6},"labelPadding":6,"titlePadding":7}},"color":{"field":"v","type":"quantitative","scale":{"scheme":"magma","domain":[13,30]},"legend":null}}},
{"data":{"name":"a"},"mark":{"type":"rect","width":32,"height":35,"clip":true,"opacity":0.3},"encoding":{"x":{"field":"x","type":"quantitative","axis":null},"y":{"field":"y","type":"quantitative"},"color":{"field":"v","type":"quantitative"}}},
{"data":{"name":"a"},"mark":{"type":"rect","width":32,"height":35,"clip":true,"opacity":0.3},"encoding":{"x":{"field":"x","type":"quantitative","axis":null},"y":{"field":"y","type":"quantitative"},"color":{"field":"v","type":"quantitative"},"order":[{"field":"y","sort":"ascending"},{"field":"x","sort":"descending"}]}},
{"data":{"name":"ca"},"mark":{"type":"line","order":false,"clip":true,"color":"#444","strokeWidth":1.5,"opacity":0.85},"encoding":{"x":{"field":"x","type":"quantitative","axis":{"orient":"top","title":null,"values":[10,30,50,70,90],"labels":false,"tickSize":-10}},"y":{"field":"y","type":"quantitative"},"detail":{"field":"c"}}}
],"resolve":{"axis":{"x":"independent"}}},
{"width":35,"height":341,"view":{"stroke":null},
"layer":[
{"data":{"values":[{"lo":13,"hi":13.53,"v":13.27},{"lo":13.53,"hi":14.06,"v":13.8},{"lo":14.06,"hi":14.59,"v":14.33},{"lo":14.59,"hi":15.13,"v":14.86},{"lo":15.13,"hi":15.66,"v":15.39},{"lo":15.66,"hi":16.19,"v":15.92},{"lo":16.19,"hi":16.72,"v":16.45},{"lo":16.72,"hi":17.25,"v":16.98},{"lo":17.25,"hi":17.78,"v":17.52},{"lo":17.78,"hi":18.31,"v":18.05},{"lo":18.31,"hi":18.84,"v":18.58},{"lo":18.84,"hi":19.38,"v":19.11},{"lo":19.38,"hi":19.91,"v":19.64},{"lo":19.91,"hi":20.44,"v":20.17},{"lo":20.44,"hi":20.97,"v":20.7},{"lo":20.97,"hi":21.5,"v":21.23},{"lo":21.5,"hi":22.03,"v":21.77},{"lo":22.03,"hi":22.56,"v":22.3},{"lo":22.56,"hi":23.09,"v":22.83},{"lo":23.09,"hi":23.63,"v":23.36},{"lo":23.63,"hi":24.16,"v":23.89},{"lo":24.16,"hi":24.69,"v":24.42},{"lo":24.69,"hi":25.22,"v":24.95},{"lo":25.22,"hi":25.75,"v":25.48},{"lo":25.75,"hi":26.28,"v":26.02},{"lo":26.28,"hi":26.81,"v":26.55},{"lo":26.81,"hi":27.34,"v":27.08},{"lo":27.34,"hi":27.88,"v":27.61},{"lo":27.88,"hi":28.41,"v":28.14},{"lo":28.41,"hi":28.94,"v":28.67},{"lo":28.94,"hi":29.47,"v":29.2},{"lo":29.47,"hi":30,"v":29.73}]},"mark":{"type":"rect"},"encoding":{"y":{"field":"lo","type":"quantitative","scale":{"domain":[12.832,30.219],"nice":false,"zero":false},"axis":{"title":null,"orient":"right","values":[13,15.125,17.25,19.375,21.5,23.625,25.75,27.875,30],"format":".1f","tickSize":7,"labelPadding":2}},"y2":{"field":"hi"},"color":{"field":"v","type":"quantitative","scale":{"scheme":"magma","domain":[13,30]},"legend":null}}},
{"data":{"values":[{"lo":30,"hi":30.36,"k":"over"},{"lo":12.59,"hi":13,"k":"under"}]},"mark":{"type":"rect"},"encoding":{"y":{"field":"lo","type":"quantitative"},"y2":{"field":"hi"},"fill":{"field":"k","type":"nominal","scale":{"domain":["over","under"],"range":["#868686","#000000"]},"legend":null}}},
{"data":{"values":[{"lo":12.59,"hi":30.36}]},"mark":{"type":"rect","fillOpacity":0,"stroke":"#111","strokeWidth":2.5},"encoding":{"y":{"field":"lo","type":"quantitative"},"y2":{"field":"hi"}}}
]}
]},
{"spacing":7,"bounds":"flush","title":{"text":"ODMR X⁺ signal (µeV)","anchor":"end","offset":-33,"dx":-61},
"hconcat":[
{"width":341,"height":341,"title":{"text":"(b)","anchor":"start","frame":"group","dx":-99,"offset":-1,"fontSize":30},
"layer":[
{"data":{"name":"b"},"mark":{"type":"rect","width":17,"height":19.3,"clip":true},"encoding":{"x":{"field":"x","type":"quantitative","scale":{"domain":[0,103.6],"nice":false,"zero":false},"axis":{"title":"X position (µm)","values":[0,10,20,30,40,50,60,70,80,90,100],"labelExpr":"datum.value % 20 == 0 ? datum.label : ''","tickSize":{"condition":{"test":"datum.value % 20 == 0","value":13},"value":6},"labelPadding":8,"titlePadding":9,"labelFlush":false}},"y":{"field":"y","type":"quantitative","scale":{"domain":[0,91],"nice":false,"zero":false},"axis":{"title":"Y position (µm)","values":[0,10,20,30,40,50,60,70,80,90],"labelExpr":"datum.value % 20 == 0 ? datum.label : ''","tickSize":{"condition":{"test":"datum.value % 20 == 0","value":13},"value":6},"labelPadding":6,"titlePadding":7}},"color":{"field":"v","type":"quantitative","scale":{"scheme":"magma","reverse":true,"domain":[56,82]},"legend":null}}},
{"data":{"name":"b"},"mark":{"type":"rect","width":32,"height":36,"clip":true,"opacity":0.3},"encoding":{"x":{"field":"x","type":"quantitative"},"y":{"field":"y","type":"quantitative"},"color":{"field":"v","type":"quantitative"}}},
{"data":{"name":"b"},"mark":{"type":"rect","width":32,"height":36,"clip":true,"opacity":0.3},"encoding":{"x":{"field":"x","type":"quantitative"},"y":{"field":"y","type":"quantitative"},"color":{"field":"v","type":"quantitative"},"order":[{"field":"y","sort":"ascending"},{"field":"x","sort":"descending"}]}},
{"data":{"name":"cb"},"mark":{"type":"line","order":false,"clip":true,"color":"#444","strokeWidth":1.5,"opacity":0.85},"encoding":{"x":{"field":"x","type":"quantitative"},"y":{"field":"y","type":"quantitative"},"detail":{"field":"c"}}}
]},
{"width":34,"height":341,"view":{"stroke":null},
"layer":[
{"data":{"values":[{"lo":56,"hi":56.81,"v":56.41},{"lo":56.81,"hi":57.63,"v":57.22},{"lo":57.63,"hi":58.44,"v":58.03},{"lo":58.44,"hi":59.25,"v":58.84},{"lo":59.25,"hi":60.06,"v":59.66},{"lo":60.06,"hi":60.88,"v":60.47},{"lo":60.88,"hi":61.69,"v":61.28},{"lo":61.69,"hi":62.5,"v":62.09},{"lo":62.5,"hi":63.31,"v":62.91},{"lo":63.31,"hi":64.13,"v":63.72},{"lo":64.13,"hi":64.94,"v":64.53},{"lo":64.94,"hi":65.75,"v":65.34},{"lo":65.75,"hi":66.56,"v":66.16},{"lo":66.56,"hi":67.38,"v":66.97},{"lo":67.38,"hi":68.19,"v":67.78},{"lo":68.19,"hi":69,"v":68.59},{"lo":69,"hi":69.81,"v":69.41},{"lo":69.81,"hi":70.63,"v":70.22},{"lo":70.63,"hi":71.44,"v":71.03},{"lo":71.44,"hi":72.25,"v":71.84},{"lo":72.25,"hi":73.06,"v":72.66},{"lo":73.06,"hi":73.88,"v":73.47},{"lo":73.88,"hi":74.69,"v":74.28},{"lo":74.69,"hi":75.5,"v":75.09},{"lo":75.5,"hi":76.31,"v":75.91},{"lo":76.31,"hi":77.13,"v":76.72},{"lo":77.13,"hi":77.94,"v":77.53},{"lo":77.94,"hi":78.75,"v":78.34},{"lo":78.75,"hi":79.56,"v":79.16},{"lo":79.56,"hi":80.38,"v":79.97},{"lo":80.38,"hi":81.19,"v":80.78},{"lo":81.19,"hi":82,"v":81.59}]},"mark":{"type":"rect"},"encoding":{"y":{"field":"lo","type":"quantitative","scale":{"domain":[55.582,82.497],"nice":false,"zero":false},"axis":{"title":null,"orient":"right","values":[56,59.25,62.5,65.75,69,72.25,75.5,78.75,82],"format":".1f","tickSize":7,"labelPadding":2}},"y2":{"field":"hi"},"color":{"field":"v","type":"quantitative","scale":{"scheme":"magma","reverse":true,"domain":[56,82]},"legend":null}}},
{"data":{"values":[{"lo":82,"hi":82.42,"k":"over"},{"lo":55.345,"hi":56,"k":"under"}]},"mark":{"type":"rect"},"encoding":{"y":{"field":"lo","type":"quantitative"},"y2":{"field":"hi"},"fill":{"field":"k","type":"nominal","scale":{"domain":["over","under"],"range":["#868686","#000000"]},"legend":null}}},
{"data":{"values":[{"lo":55.345,"hi":82.607}]},"mark":{"type":"rect","fillOpacity":0,"stroke":"#111","strokeWidth":2.5},"encoding":{"y":{"field":"lo","type":"quantitative"},"y2":{"field":"hi"}}}
]}
]}
]}
